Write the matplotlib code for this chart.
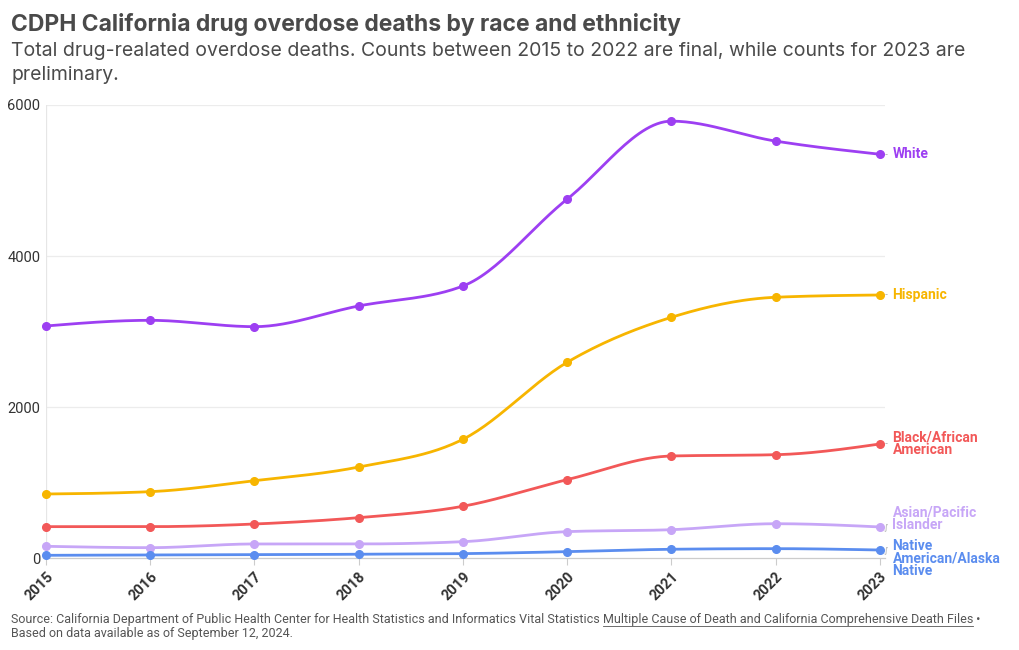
import numpy as np
import matplotlib
matplotlib.use('Agg')
import matplotlib.pyplot as plt

# Data
years = [2015, 2016, 2017, 2018, 2019, 2020, 2021, 2022, 2023]
white = [3076, 3151, 3067, 3341, 3605, 4755, 5786, 5522, 5348]
hispanic = [853, 884, 1029, 1210, 1577, 2596, 3191, 3456, 3486]
black = [421, 421, 456, 540, 691, 1043, 1356, 1373, 1515]
asian = [161, 143, 192, 192, 222, 355, 381, 460, 417]
native = [42, 46, 50, 56, 64, 90, 122, 130, 112]

series_names = ['White', 'Hispanic', 'Black/African\nAmerican',
                'Asian/Pacific\nIslander', 'Native\nAmerican/Alaska\nNative']
series_values = [white, hispanic, black, asian, native]
series_colors = ['#9d3ff2', '#f7b500', '#f25858', '#c7a6f7', '#5b8def']
label_offsets = [0, 0, 0, 6, -6]   # nudge of end labels in points
connector = ['-', '-', '-', '[', '[']

TEXT = '#4a4a4a'


def monotone(x, y, n=30):
    """Monotone cubic curve (like d3 curveMonotoneX) through the points."""
    x = np.asarray(x, float)
    y = np.asarray(y, float)
    h = np.diff(x)
    s = np.diff(y) / h
    m = np.zeros(len(y))
    for i in range(1, len(y) - 1):
        p = (s[i - 1] * h[i] + s[i] * h[i - 1]) / (h[i - 1] + h[i])
        m[i] = (np.sign(s[i - 1]) + np.sign(s[i])) * min(abs(s[i - 1]), abs(s[i]), 0.5 * abs(p))
    m[0] = (3 * s[0] - m[1]) / 2
    m[-1] = (3 * s[-1] - m[-2]) / 2
    xs, ys = [], []
    for i in range(len(y) - 1):
        t = np.linspace(0, 1, n)
        h00 = 2 * t**3 - 3 * t**2 + 1
        h10 = t**3 - 2 * t**2 + t
        h01 = -2 * t**3 + 3 * t**2
        h11 = t**3 - t**2
        xs.extend(x[i] + t * h[i])
        ys.extend(h00 * y[i] + h10 * h[i] * m[i] + h01 * y[i + 1] + h11 * h[i] * m[i + 1])
    return np.array(xs), np.array(ys)


fig = plt.figure(figsize=(10.2, 6.5), dpi=100)
ax = fig.add_axes([0.0451, 0.1408, 0.8227, 0.6977])

# Gridlines
for v in [2000, 4000, 6000]:
    ax.axhline(v, color='#ececec', lw=0.9, zorder=0)
ax.axvline(2015, color='#e6e6e6', lw=0.9, zorder=0)

for name, vals, col, off, con in zip(series_names, series_values, series_colors,
                                     label_offsets, connector):
    cx, cy = monotone(years, vals)
    ax.plot(cx, cy, color=col, lw=2.0, solid_capstyle='round', clip_on=False, zorder=3)
    ax.plot(years, vals, 'o', color=col, ms=5.5, clip_on=False, zorder=4)
    ax.annotate(name, xy=(years[-1], vals[-1]), xytext=(9, off), textcoords='offset points',
                color=col, fontsize=10, fontweight='bold', family='Roboto',
                va='center', ha='left', linespacing=0.85, annotation_clip=False)
    ax.annotate(con if con == '-' else '\u222b', xy=(years[-1], vals[-1]), xytext=(4.5, 0),
                textcoords='offset points', color='#aaaaaa', fontsize=6,
                va='center', ha='center', annotation_clip=False)

ax.set_xlim(2015, 2023.05)
ax.set_ylim(0, 6000)
ax.set_yticks([0, 2000, 4000, 6000])
ax.set_xticks(years)
ax.set_xticklabels([str(y) for y in years], rotation=45, ha='right', va='top',
                   rotation_mode='anchor', fontsize=10.5, fontweight='bold',
                   family='Roboto', color='#333333')
ax.tick_params(axis='x', length=5, color='#cccccc', pad=3)
ax.tick_params(axis='y', length=0, pad=4, labelsize=10.5, labelcolor='#333333')
for lbl in ax.get_yticklabels():
    lbl.set_family('Roboto')

for side in ['top', 'right', 'left']:
    ax.spines[side].set_visible(False)
ax.spines['bottom'].set_color('#cccccc')
ax.spines['bottom'].set_linewidth(0.9)

# Title and subtitle
fig.text(0.011, 0.962, 'CDPH California drug overdose deaths by race and ethnicity',
         fontsize=16.5, fontweight='bold', family='Inter', color=TEXT, va='center')
fig.text(0.011, 0.935, 'Total drug-realated overdose deaths. Counts between 2015 to 2022 are final, '
         'while counts for 2023 are\npreliminary.',
         fontsize=14, family='Inter', color=TEXT, va='top', linespacing=1.38)

# Source note with underlined link text
fig.canvas.draw()
renderer = fig.canvas.get_renderer()
t1 = fig.text(0.011, 0.0415, 'Source: California Department of Public Health Center for Health '
              'Statistics and Informatics Vital Statistics ',
              fontsize=9, family='Roboto', color='#555555', va='baseline')
bb = t1.get_window_extent(renderer)
x2 = bb.x1 / fig.bbox.width
t2 = fig.text(x2, 0.0415, 'Multiple Cause of Death and California Comprehensive Death Files',
              fontsize=9, family='Roboto', color='#555555', va='baseline')
bb2 = t2.get_window_extent(renderer)
fig.add_artist(plt.Line2D([bb2.x0 / fig.bbox.width, bb2.x1 / fig.bbox.width],
                          [0.0375, 0.0375], color='#555555', lw=0.6))
fig.text(bb2.x1 / fig.bbox.width, 0.0415, ' \u2022', fontsize=9, family='Roboto',
         color='#555555', va='baseline')
fig.text(0.011, 0.020, 'Based on data available as of September 12, 2024.',
         fontsize=9, family='Roboto', color='#555555', va='baseline')

fig.savefig('out.png', dpi=100, facecolor='white')
